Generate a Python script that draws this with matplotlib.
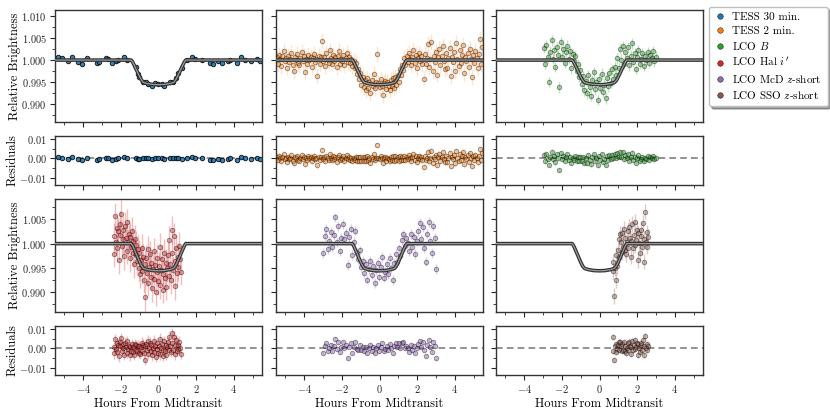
#%% transit light curves: phase-folded data, model and residuals
import numpy as np
import matplotlib
matplotlib.use('Agg')
import matplotlib.pyplot as plt
from matplotlib.lines import Line2D
from matplotlib.ticker import MultipleLocator, ScalarFormatter

plt.rcParams['font.family'] = 'serif'
plt.rcParams['font.serif'] = ['cmr10']
plt.rcParams['mathtext.fontset'] = 'cm'
plt.rcParams['axes.formatter.use_mathtext'] = True

#%% data (time in hours from midtransit, flux and residuals in ppt)

# transit model
model_t   = [-5.5, -1.45, -1.38, -1.30, -1.20, -1.10, -1.00, -0.90, -0.80, -0.60, -0.30, 0.0,
             0.30, 0.60, 0.80, 0.90, 1.00, 1.10, 1.20, 1.30, 1.38, 1.45, 5.5]
model_ppt = [0.0, 0.0, -0.4, -1.1, -2.0, -2.9, -3.8, -4.6, -5.1, -5.35, -5.55, -5.6,
             -5.55, -5.35, -5.1, -4.6, -3.8, -2.9, -2.0, -1.1, -0.4, 0.0, 0.0]

# TESS 30 min.
tess30_t = [-5.32, -5.11, -4.79, -4.62, -4.26, -4.08, -3.80, -3.29, -3.16, -2.81,
            -2.67, -2.49, -2.26, -2.17, -1.82, -1.69, -1.22, -1.11, -1.02, -0.81,
            -0.69, -0.54, -0.33, -0.19, -0.01, 0.16, 0.31, 0.61, 0.78, 0.91,
            1.01, 1.23, 1.49, 1.76, 1.93, 2.29, 2.73, 2.91, 3.17, 3.35,
            3.67, 3.79, 4.15, 4.38, 4.62, 4.94, 5.21, 5.38]
tess30_flux = [0.6, 0.5, -0.1, 0.8, -0.4, -0.9, 0.4, -0.6, -0.4, 0.4,
               0.2, -0.6, -0.3, 0.0, 0.6, 0.0, -1.5, -3.2, -3.9, -4.9,
               -5.1, -5.4, -6.0, -5.3, -5.5, -5.5, -5.8, -5.1, -4.9, -4.1,
               -3.0, -1.9, 0.0, 0.6, 0.2, 0.0, -0.6, -1.0, -0.3, -0.7,
               -0.3, 0.0, -0.6, 0.8, 0.0, -0.1, 0.2, -0.1]
tess30_res = [0.6, 0.5, -0.1, 0.8, -0.4, -0.9, 0.4, -0.6, -0.4, 0.4,
              0.2, -0.6, -0.3, 0.0, 0.6, 0.0, 0.2, -0.5, -0.3, 0.2,
              0.2, 0.1, -0.4, 0.4, 0.2, 0.2, -0.2, 0.3, 0.3, 0.4,
              0.3, -0.1, 0.0, 0.6, 0.2, 0.0, -0.6, -1.0, -0.3, -0.7,
              -0.3, 0.0, -0.6, 0.8, 0.0, -0.1, 0.2, -0.1]

# TESS 2 min.
tess2_t = [-5.46, -5.40, -5.34, -5.28, -5.22, -5.16, -5.10, -5.04, -4.98, -4.92,
           -4.86, -4.80, -4.74, -4.68, -4.62, -4.56, -4.50, -4.44, -4.38, -4.32,
           -4.26, -4.20, -4.14, -4.08, -4.02, -3.96, -3.90, -3.84, -3.78, -3.72,
           -3.66, -3.60, -3.54, -3.48, -3.42, -3.36, -3.30, -3.24, -3.18, -3.12,
           -3.06, -3.00, -2.94, -2.88, -2.82, -2.76, -2.70, -2.64, -2.58, -2.52,
           -2.46, -2.40, -2.34, -2.28, -2.22, -2.16, -2.10, -2.04, -1.98, -1.92,
           -1.86, -1.80, -1.74, -1.68, -1.62, -1.56, -1.50, -1.44, -1.38, -1.32,
           -1.26, -1.20, -1.14, -1.08, -1.02, -0.96, -0.90, -0.84, -0.78, -0.72,
           -0.66, -0.60, -0.54, -0.48, -0.42, -0.36, -0.30, -0.24, -0.18, -0.12,
           -0.06, 0.00, 0.06, 0.12, 0.18, 0.24, 0.30, 0.36, 0.42, 0.48,
           0.54, 0.60, 0.66, 0.72, 0.78, 0.84, 0.90, 0.96, 1.02, 1.08,
           1.14, 1.20, 1.26, 1.32, 1.38, 1.44, 1.50, 1.56, 1.62, 1.68,
           1.74, 1.80, 1.86, 1.92, 1.98, 2.04, 2.10, 2.16, 2.22, 2.28,
           2.34, 2.40, 2.46, 2.52, 2.58, 2.64, 2.70, 2.76, 2.82, 2.88,
           2.94, 3.00, 3.06, 3.12, 3.18, 3.24, 3.30, 3.36, 3.42, 3.48,
           3.54, 3.60, 3.66, 3.72, 3.78, 3.84, 3.90, 3.96, 4.02, 4.08,
           4.14, 4.20, 4.26, 4.32, 4.38, 4.44, 4.50, 4.56, 4.62, 4.68,
           4.74, 4.80, 4.86, 4.92, 4.98, 5.04, 5.10, 5.16, 5.22, 5.28,
           5.34, 5.40, 5.46]
tess2_flux = [0.6, -0.9, 1.2, 0.3, -1.4, 0.9, 2.1, -0.3, 0.5, -1.8,
              1.0, -0.4, 0.2, 1.6, -1.1, -2.4, 0.7, 0.1, 1.3, -0.6,
              -1.2, 0.4, 1.8, -0.2, 0.9, -2.8, 0.3, -0.8, 1.1, 0.0,
              0.8, -1.5, 0.5, 1.4, -0.5, 0.2, -3.6, 1.0, -0.9, 0.6,
              4.4, -0.2, 0.7, -1.3, 1.5, 0.1, -0.7, 2.2, 0.4, -1.0,
              1.2, -0.3, 0.6, -1.6, 0.9, 2.0, -0.8, 0.3, -0.1, 1.1,
              -1.1, 0.5, 1.6, -0.4, 0.8, -0.6, 0.2, -1.4, -0.2, -1.9,
              -0.6, -3.1, -2.0, -4.4, -3.0, -5.6, -3.9, -6.2, -4.5, -6.8,
              -4.1, -6.3, -5.0, -7.5, -4.6, -5.9, -3.2, -6.4, -5.1, 1.4,
              -5.2, -6.1, -4.4, -5.8, -7.9, -5.3, -4.8, -6.6, -5.0, -6.0,
              -6.8, -4.5, -5.9, -4.0, -6.4, -3.8, -5.6, -3.5, -4.9, -2.1,
              -3.5, -1.2, -2.3, 0.4, -1.1, 1.0, -0.5, 1.6, 0.3, -1.2,
              0.7, 2.3, -0.6, 1.1, -1.9, 0.4, 1.5, -0.2, 0.9, -1.0,
              -4.2, 1.3, -0.8, 0.5, 3.6, -1.5, 0.2, 4.1, -2.6, 1.0,
              -0.4, 1.8, -3.3, 0.6, 2.5, -1.1, 0.9, 3.2, -0.3, -2.0,
              1.5, -1.7, 0.4, 2.8, -3.7, 0.8, -0.5, 1.9, -2.4, 3.9,
              0.2, -1.3, 2.2, -0.7, 1.1, 3.4, -2.9, 0.6, -0.1, 1.7,
              -1.6, 2.6, 0.3, -3.8, 1.2, -0.6, 2.0, 0.5, -1.9, 1.4,
              4.8, -1.0, 2.9]
tess2_res = [0.6, -0.9, 1.2, 0.3, -1.4, 0.9, 2.1, -0.3, 0.5, -1.8,
             1.0, -0.4, 0.2, 1.6, -1.1, -2.4, 0.7, 0.1, 1.3, -0.6,
             -1.2, 0.4, 1.8, -0.2, 0.9, -2.8, 0.3, -0.8, 1.1, 0.0,
             0.8, -1.5, 0.5, 1.4, -0.5, 0.2, -3.6, 1.0, -0.9, 0.6,
             4.4, -0.2, 0.7, -1.3, 1.5, 0.1, -0.7, 2.2, 0.4, -1.0,
             1.2, -0.3, 0.6, -1.6, 0.9, 2.0, -0.8, 0.3, -0.1, 1.1,
             -1.1, 0.5, 1.6, -0.4, 0.8, -0.6, 0.2, -1.4, 0.3, -1.0,
             0.8, -1.1, 0.6, -1.2, 0.8, -1.3, 0.8, -1.2, 0.7, -1.5,
             1.2, -0.9, 0.4, -2.1, 0.9, -0.4, 2.3, -0.8, 0.5, 7.0,
             0.4, -0.5, 1.2, 0.2, -2.3, 0.3, 0.7, -1.1, 0.5, -0.5,
             -1.4, 0.9, -0.6, 1.3, -1.2, 1.2, -0.9, 0.8, -1.1, 1.1,
             -0.9, 0.8, -0.9, 1.3, -0.6, 1.0, -0.5, 1.6, 0.3, -1.2,
             0.7, 2.3, -0.6, 1.1, -1.9, 0.4, 1.5, -0.2, 0.9, -1.0,
             -4.2, 1.3, -0.8, 0.5, 3.6, -1.5, 0.2, 4.1, -2.6, 1.0,
             -0.4, 1.8, -3.3, 0.6, 2.5, -1.1, 0.9, 3.2, -0.3, -2.0,
             1.5, -1.7, 0.4, 2.8, -3.7, 0.8, -0.5, 1.9, -2.4, 3.9,
             0.2, -1.3, 2.2, -0.7, 1.1, 3.4, -2.9, 0.6, -0.1, 1.7,
             -1.6, 2.6, 0.3, -3.8, 1.2, -0.6, 2.0, 0.5, -1.9, 1.4,
             4.8, -1.0, 2.9]

# LCO B
lcob_t = [-2.97, -2.90, -2.83, -2.76, -2.69, -2.62, -2.55, -2.48, -2.41, -2.34,
          -2.27, -2.20, -2.13, -2.06, -1.99, -1.92, -1.85, -1.78, -1.71, -1.64,
          -1.57, -1.50, -1.43, -1.36, -1.29, -1.22, -1.15, -1.08, -1.01, -0.94,
          -0.87, -0.80, -0.73, -0.66, -0.59, -0.52, -0.45, -0.38, -0.31, -0.24,
          -0.17, -0.10, -0.03, 0.04, 0.11, 0.18, 0.25, 0.32, 0.39, 0.46,
          0.53, 0.60, 0.67, 0.74, 0.81, 0.88, 0.95, 1.02, 1.09, 1.16,
          1.23, 1.30, 1.37, 1.44, 1.51, 1.58, 1.65, 1.72, 1.79, 1.86,
          1.93, 2.00, 2.07, 2.14, 2.21, 2.28, 2.35, 2.42, 2.49, 2.56,
          2.63, 2.70, 2.77, 2.84, 2.91, 2.98]
lcob_flux = [2.8, -0.9, 3.4, 0.6, -5.0, 1.9, 4.5, 0.3, 2.2, -1.6,
             3.0, 1.1, -6.2, 4.1, 0.8, 2.6, -0.7, 1.8, 3.3, 0.2,
             2.0, -1.9, 1.4, -0.3, 0.9, -2.6, -1.0, -3.9, -2.2, -5.5,
             -3.6, -6.9, -4.8, -7.6, -3.4, -6.1, -8.2, -4.5, -2.8, -6.7,
             -5.0, -9.0, -4.2, -6.4, -3.1, -7.3, -5.6, -8.7, -4.0, -6.0,
             -3.0, -5.2, -2.1, -4.4, -1.5, -3.3, 0.4, -1.8, 2.6, 0.1,
             3.2, -0.8, 1.9, 0.5, 2.9, -1.2, 1.0, 3.8, -0.4, 1.5,
             -2.0, 0.7, 2.3, -0.9, 0.3, 1.6, -1.4, 0.9, 0.0, 1.8,
             -0.6, 1.2, 0.4, 2.0, -0.3, 0.8]
lcob_res = [1.8, -1.5, 2.3, -0.2, -3.4, 0.9, 3.6, -0.5, 1.3, -2.0,
            2.1, 0.4, -6.0, 2.9, -0.2, 1.5, -1.4, 0.8, 2.2, -0.6,
            1.0, -2.4, 0.5, -1.0, 1.3, -1.2, 0.9, -1.1, 1.0, -1.4,
            0.8, -2.1, 0.2, -2.5, 1.6, -0.9, -3.0, 0.7, 2.4, -1.3,
            0.4, -3.5, 1.2, -0.8, 2.1, -1.9, -0.2, -3.2, 1.3, -0.7,
            1.6, -0.1, 2.0, 0.0, 2.1, 0.4, 2.9, 0.7, 3.6, 0.9,
            3.2, -0.5, 1.7, 0.2, 2.4, -1.4, 0.6, 3.0, -0.8, 1.0,
            -2.2, 0.3, 1.6, -1.1, -0.1, 1.0, -1.5, 0.5, -0.3, 1.2,
            -0.8, 0.7, 0.1, 1.3, -0.5, 0.4]

# LCO Hal i'
hal_t = [-2.38, -2.34, -2.30, -2.26, -2.22, -2.18, -2.14, -2.10, -2.06, -2.02,
         -1.98, -1.94, -1.90, -1.86, -1.82, -1.78, -1.74, -1.70, -1.66, -1.62,
         -1.58, -1.54, -1.50, -1.46, -1.42, -1.38, -1.34, -1.30, -1.26, -1.22,
         -1.18, -1.14, -1.10, -1.06, -1.02, -0.98, -0.94, -0.90, -0.86, -0.82,
         -0.78, -0.74, -0.70, -0.66, -0.62, -0.58, -0.54, -0.50, -0.46, -0.42,
         -0.38, -0.34, -0.30, -0.26, -0.22, -0.18, -0.14, -0.10, -0.06, -0.02,
         0.02, 0.06, 0.10, 0.14, 0.18, 0.22, 0.26, 0.30, 0.34, 0.38,
         0.42, 0.46, 0.50, 0.54, 0.58, 0.62, 0.66, 0.70, 0.74, 0.78,
         0.82, 0.86, 0.90, 0.94, 0.98, 1.02, 1.06, 1.10, 1.14, 1.18]
hal_flux = [1.5, -2.1, 5.6, 0.4, 3.2, -1.0, 2.5, -3.4, 1.8, 4.0,
            6.1, -0.5, 2.9, 0.9, -2.6, 3.7, 1.2, -1.5, 4.4, 0.3,
            2.0, -3.0, 1.4, -0.8, 2.6, -1.9, 0.5, -4.2, 1.0, -2.4,
            -0.2, -3.6, -1.1, -5.0, -2.0, -6.3, -3.3, -0.9, -5.6, -2.8,
            -7.4, -4.1, -11.0, -3.0, -6.0, -1.2, -8.1, -4.8, -2.2, -6.9,
            -3.9, -9.2, -5.3, -1.6, -7.2, -4.4, -10.0, -5.9, -2.9, -7.8,
            -4.6, -0.6, -8.6, -5.4, -3.1, -9.5, -6.2, -1.9, -7.0, -4.0,
            -8.9, -5.1, -2.4, -6.6, 0.8, -4.3, -7.6, 2.8, -2.0, -5.5,
            1.5, -8.8, -3.6, -1.0, -6.0, -2.7, -4.9, -0.4, -3.2, -5.8]
hal_res = [1.0, -2.6, 4.9, -0.2, 2.6, -1.6, 1.9, -4.0, 1.2, 3.4,
           5.5, -1.1, 2.3, 0.3, -3.2, 3.1, 0.6, -2.1, 3.8, -0.3,
           1.4, -3.6, 0.8, -1.4, 2.1, -1.8, 1.0, -3.4, 2.3, -0.7,
           1.8, -1.4, 1.5, -2.3, 1.2, -2.9, 0.6, 3.0, -1.2, 1.9,
           -2.5, 1.1, -6.0, 2.2, -0.8, 4.0, -2.9, 0.4, 3.0, -1.5,
           1.6, -3.6, 0.4, 4.0, -1.6, 1.2, -4.4, -0.3, 2.7, -2.1,
           1.1, 5.0, -3.0, 0.2, 2.5, -3.9, -0.6, 3.7, -1.3, 1.7,
           -3.2, 0.6, 3.2, -1.0, 5.9, 1.4, -1.8, 7.9, 2.9, -0.6,
           6.2, -3.0, 2.0, 4.3, -1.2, 2.0, -0.2, 3.6, 0.0, -2.7]

# LCO McD z-short
mcd_t = [-2.98, -2.90, -2.82, -2.74, -2.66, -2.58, -2.50, -2.42, -2.34, -2.26,
         -2.18, -2.10, -2.02, -1.94, -1.86, -1.78, -1.70, -1.62, -1.54, -1.46,
         -1.38, -1.30, -1.22, -1.14, -1.06, -0.98, -0.90, -0.82, -0.74, -0.66,
         -0.58, -0.50, -0.42, -0.34, -0.26, -0.18, -0.10, -0.02, 0.06, 0.14,
         0.22, 0.30, 0.38, 0.46, 0.54, 0.62, 0.70, 0.78, 0.86, 0.94,
         1.02, 1.10, 1.18, 1.26, 1.34, 1.42, 1.50, 1.58, 1.66, 1.74,
         1.82, 1.90, 1.98, 2.06, 2.14, 2.22, 2.30, 2.38, 2.46, 2.54,
         2.62, 2.70, 2.78, 2.86, 2.94, 3.02]
mcd_flux = [-2.0, 1.5, 3.0, -1.2, 0.6, 2.4, -0.8, 1.8, 5.4, 0.3,
            3.6, -1.6, 1.1, 4.0, 0.9, 2.2, -4.4, 1.4, 3.1, -2.3,
            0.4, 2.6, -1.9, -3.2, -1.4, -4.9, -3.6, -6.0, -4.3, -7.4,
            -5.2, -3.5, -6.5, -4.6, -8.1, -5.5, -3.9, -6.8, -4.9, -2.8,
            -7.0, -5.8, -4.2, -6.3, -3.0, -5.1, -7.5, -4.0, -2.2, -3.8,
            -1.0, -2.6, 0.8, 1.9, -0.5, 1.2, 0.2, -1.6, 2.0, -0.7,
            1.3, -2.1, 0.5, 2.5, 4.2, 1.0, 3.4, -0.9, -3.7, 2.0,
            4.5, 0.6, -2.0, 3.7, 1.2, -5.2]
mcd_res = [-2.3, 1.2, 2.6, -1.5, 0.2, 2.0, -1.1, 1.4, 5.0, -0.1,
           3.2, -2.0, 0.7, 3.6, 0.5, 1.8, -4.8, 1.0, 2.7, -2.6,
           0.8, 3.3, -0.3, -0.8, 1.8, -1.0, 0.9, -1.2, 0.9, -2.2,
           0.1, 1.9, -1.1, 0.9, -2.6, 0.1, 1.7, -1.2, 0.7, 2.8,
           -1.4, -0.2, 1.3, -0.8, 2.4, 0.3, -2.2, 1.3, 2.8, 0.6,
           2.8, 0.4, 3.0, 3.3, 0.3, 1.3, 0.2, -1.6, 2.0, -0.7,
           1.3, -2.1, 0.5, 2.5, 3.9, 1.0, 3.4, -0.9, -3.9, 2.0,
           4.3, 0.6, -2.0, 3.5, 1.2, -5.2]

# LCO SSO z-short
sso_t = [0.70, 0.74, 0.78, 0.82, 0.86, 0.90, 0.94, 0.98, 1.02, 1.06,
         1.10, 1.14, 1.18, 1.22, 1.26, 1.30, 1.34, 1.38, 1.42, 1.46,
         1.50, 1.54, 1.58, 1.62, 1.66, 1.70, 1.74, 1.78, 1.82, 1.86,
         1.90, 1.94, 1.98, 2.02, 2.06, 2.10, 2.14, 2.18, 2.22, 2.26,
         2.30, 2.34, 2.38, 2.42, 2.46, 2.50, 2.54, 2.58]
sso_flux = [-5.6, -3.7, -10.8, -5.0, -7.5, -2.4, -4.6, -1.3, 0.9, -2.7,
            2.0, 0.4, -1.8, 2.1, -0.6, 3.0, -1.3, 1.1, -2.2, 0.3,
            2.6, -0.9, 3.5, 1.2, -2.7, 0.6, 4.0, -1.0, 1.8, 4.5,
            -0.3, 0.8, 2.9, -3.4, 2.1, 0.2, -2.0, 1.5, 2.8, -0.8,
            4.2, -3.7, 1.0, 6.6, 0.4, -0.6, 2.3, 1.4]
sso_res = [-1.5, 6.1, -6.1, 1.2, -2.0, 2.5, -0.4, 1.6, 3.5, -1.0,
           3.4, 1.3, -1.4, 2.5, -0.6, 3.2, -1.4, 1.1, -2.3, 0.3,
           2.6, -1.0, 3.6, 1.3, -2.7, 0.7, 4.1, -1.0, 1.9, 4.6,
           -0.3, 0.8, 3.0, -3.4, 2.2, 0.3, -2.0, 1.6, 2.9, -0.8,
           4.3, -3.6, 1.1, 6.6, 0.4, -0.6, 2.4, 1.5]

labels = ['TESS 30 min.', 'TESS 2 min.', 'LCO $B$', "LCO Hal $i'$",
          'LCO McD $z$-short', 'LCO SSO $z$-short']
errors_ppt = [0.4, 1.8, 1.2, 2.8, 1.0, 1.6]
colors = ['#1f77b4', '#ff7f0e', '#2ca02c', '#d62728', '#9467bd', '#8c564b']

datasets = [(tess30_t, tess30_flux, tess30_res),
            (tess2_t, tess2_flux, tess2_res),
            (lcob_t, lcob_flux, lcob_res),
            (hal_t, hal_flux, hal_res),
            (mcd_t, mcd_flux, mcd_res),
            (sso_t, sso_flux, sso_res)]

#%% figure layout (pixels of a 830x415 canvas)
W, H = 830, 415
fig = plt.figure(figsize=(W/100, H/100), dpi=100)

def px_axes(x0, y0, w, h):
    return fig.add_axes([x0/W, 1-(y0+h)/H, w/W, h/H])

col_left = [55, 276, 496]
lc_top   = [10, 199]
lc_h     = [112, 113]
res_top  = [136, 326]
lc_ylim  = [(0.9859, 1.0114), (0.9859, 1.0092)]

mt = np.array(model_t)
mf = 1 + np.array(model_ppt)/1000

for k, (t, f, r) in enumerate(datasets):
    row, col = k // 3, k % 3
    c = colors[k]
    t = np.array(t)
    f = 1 + np.array(f)/1000
    r = np.array(r)/1000
    err = errors_ppt[k]/1000

    if k == 0:
        malpha, ealpha = 0.85, 0.5
    elif k == 1:
        malpha, ealpha = 0.4, 0.2
    else:
        malpha, ealpha = 0.4, 0.3

    ax  = px_axes(col_left[col], lc_top[row], 207, lc_h[row])
    axr = px_axes(col_left[col], res_top[row], 207, 49)

    ax.errorbar(t, f, yerr=err, fmt='none', ecolor=c, elinewidth=1, alpha=ealpha, zorder=1)
    ax.plot(t, f, 'o', ms=3.2, mfc=c, mec='k', mew=0.7, alpha=malpha, zorder=2)
    ax.plot(mt, mf, color='0.2', lw=2.6, zorder=3)
    ax.plot(mt, mf, color='0.6', lw=0.9, zorder=4)

    axr.axhline(0, color='0.5', ls='--', lw=1.2, dashes=(4, 2.5), zorder=0)
    axr.errorbar(t, r, yerr=err, fmt='none', ecolor=c, elinewidth=1, alpha=ealpha, zorder=1)
    axr.plot(t, r, 'o', ms=3.2, mfc=c, mec='k', mew=0.7, alpha=malpha, zorder=2)

    ax.set_ylim(*lc_ylim[row])
    ax.yaxis.set_major_locator(MultipleLocator(0.005))
    ax.yaxis.set_minor_locator(MultipleLocator(0.0025))
    axr.set_ylim(-0.0138, 0.0117)
    axr.yaxis.set_major_locator(MultipleLocator(0.01))
    axr.yaxis.set_minor_locator(MultipleLocator(0.005))

    for a in (ax, axr):
        a.set_xlim(-5.5, 5.5)
        a.xaxis.set_major_locator(MultipleLocator(2))
        a.xaxis.set_minor_locator(MultipleLocator(1))
        fmt = ScalarFormatter(useMathText=True)
        fmt.set_useOffset(False)
        a.yaxis.set_major_formatter(fmt)
        a.tick_params(which='both', direction='out', labelsize=7.5, colors='0.15', pad=2.5)
        a.tick_params(which='major', length=3.5, width=0.8)
        a.tick_params(which='minor', length=2, width=0.6)
        for s in a.spines.values():
            s.set_color('0.2')
            s.set_linewidth(1.0)
        if col > 0:
            a.tick_params(labelleft=False)
    ax.tick_params(labelbottom=False)
    if row == 0:
        axr.tick_params(labelbottom=False)
    else:
        axr.set_xlabel('Hours From Midtransit', fontsize=9, labelpad=1.5)

    if col == 0:
        ax.set_ylabel('Relative Brightness', fontsize=9)
        ax.yaxis.set_label_coords(-0.165, 0.5)
        axr.set_ylabel('Residuals', fontsize=9)
        axr.yaxis.set_label_coords(-0.175, 0.5)

#%% legend
handles = [Line2D([], [], ls='none', marker='o', ms=4, mfc=c, mec='k', mew=0.3)
           for c in colors]
fig.legend(handles, labels, loc='upper left', bbox_to_anchor=(709/W, 1-7/H),
           fontsize=8, frameon=True, fancybox=True, shadow=True, edgecolor='0.75',
           framealpha=1, handlelength=1.0, handletextpad=0.6, labelspacing=0.35,
           borderpad=0.5, borderaxespad=0)

plt.savefig('out.png', dpi=100)
